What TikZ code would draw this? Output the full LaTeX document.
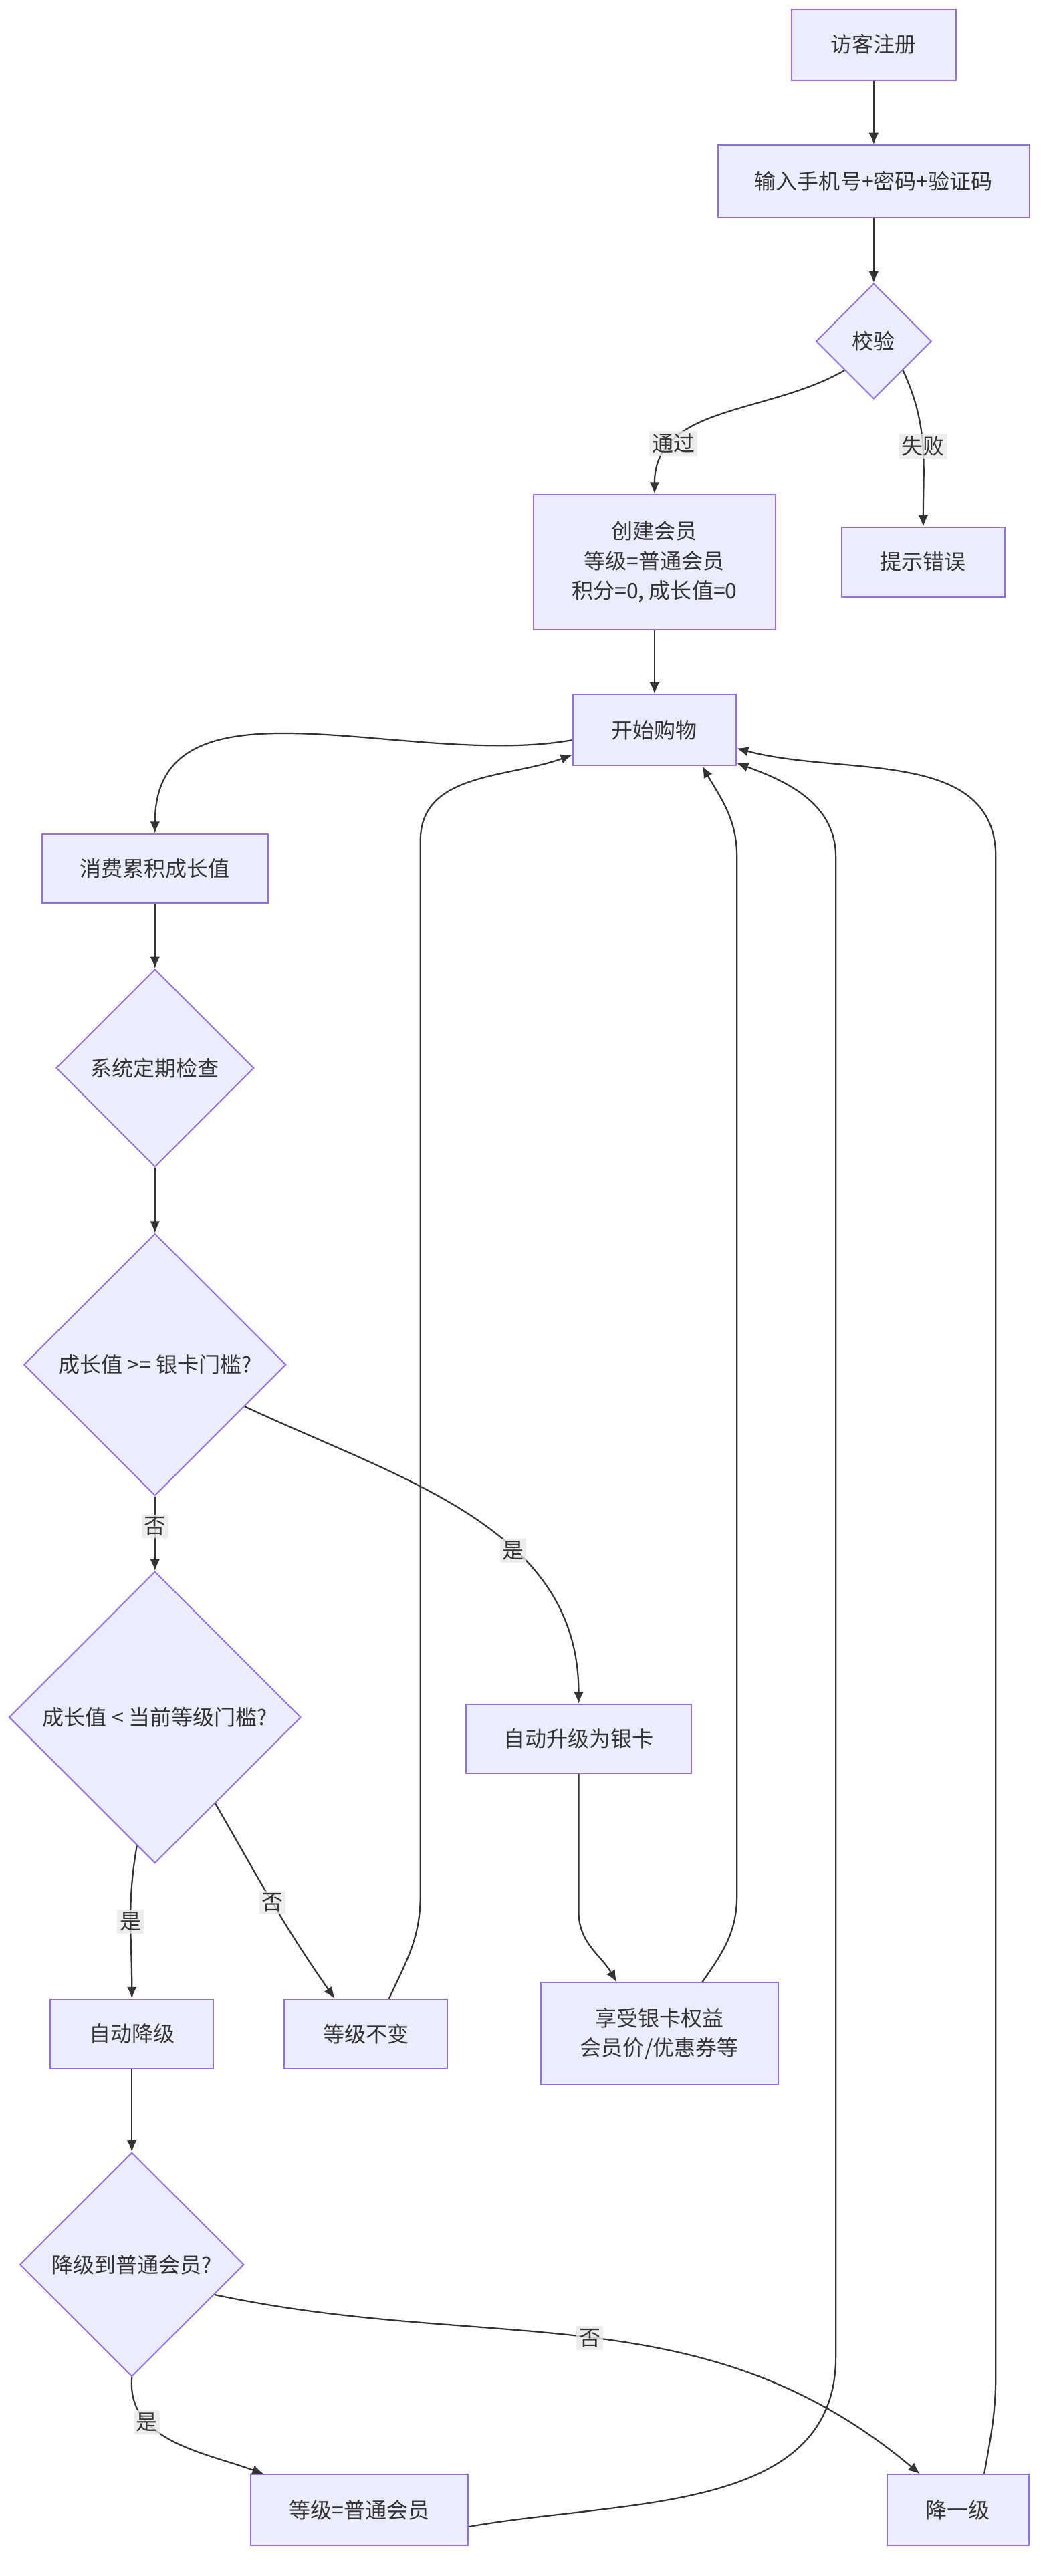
\documentclass[tikz,border=0pt]{standalone}
\usepackage{fontspec}
\setmainfont{Noto Sans CJK SC}
\usetikzlibrary{shapes.geometric}
\usetikzlibrary{arrows.meta}
\definecolor{boxfill}{HTML}{ECECFF}
\definecolor{boxline}{HTML}{9370DB}
\definecolor{edgeline}{HTML}{333333}
\definecolor{lblfill}{HTML}{E8E8E8}
\begin{document}
\begin{tikzpicture}
          [x=1pt, y=1pt,
           every node/.style={font=\fontsize{13}{18}\selectfont, text=edgeline},
           box/.style={draw=boxline, fill=boxfill, line width=0.8pt, align=center, inner sep=0pt},
           dia/.style={draw=boxline, fill=boxfill, line width=0.8pt, diamond, aspect=1, inner sep=0pt, align=center},
           arr/.style={draw=edgeline, line width=0.9pt, -{Latex[length=7pt, width=6pt]}},
           lbl/.style={fill=lblfill, fill opacity=0.8, text opacity=1, inner sep=1.5pt}]
          \useasboundingbox (0,0) rectangle (636,-1563);

          \node (reg) [box, minimum width=100, minimum height=43] at (530,-27) {访客注册};
          \node (inp) [box, minimum width=189, minimum height=44] at (530,-110) {输入手机号+密码+验证码};
          \node (chk) [dia, minimum width=70, minimum height=70] at (530,-207) {校验};
          \node (new) [box, minimum width=147, minimum height=82] at (397,-341) {创建会员\\等级=普通会员\\积分=0, 成长值=0};
          \node (err) [box, minimum width=99, minimum height=42] at (560,-341) {提示错误};
          \node (shop) [box, minimum width=99, minimum height=43] at (397,-443) {开始购物};
          \node (acc) [box, minimum width=137, minimum height=42] at (94,-527) {消费累积成长值};
          \node (per) [dia, minimum width=120, minimum height=120] at (94,-648) {系统定期检查};
          \node (sil) [dia, minimum width=159, minimum height=159] at (94,-828) {成长值 >= 银卡门槛?};
          \node (less) [dia, minimum width=177, minimum height=177] at (94,-1042) {成长值 < 当前等级门槛?};
          \node (up) [box, minimum width=137, minimum height=42] at (351,-1055) {自动升级为银卡};
          \node (down) [box, minimum width=99, minimum height=42] at (80,-1234) {自动降级};
          \node (keep) [box, minimum width=99, minimum height=42] at (222,-1234) {等级不变};
          \node (enj) [box, minimum width=144, minimum height=62] at (400,-1234) {享受银卡权益\\会员价/优惠券等};
          \node (tonorm) [dia, minimum width=136, minimum height=136] at (80,-1374) {降级到普通会员?};
          \node (norm) [box, minimum width=132, minimum height=43] at (218,-1523) {等级=普通会员};
          \node (one) [box, minimum width=86, minimum height=43] at (581,-1523) {降一级};

          \draw[arr] (reg) -- (inp);
          \draw[arr] (inp) -- (chk);
          \draw[arr] (chk.south west) to[out=-150, in=90] node[lbl, pos=0.75] {通过} (new.north);
          \draw[arr] (chk.south east) to[out=-65, in=90] node[lbl, pos=0.5] {失败} (err.north);
          \draw[arr] (new) -- (shop);
          \draw[arr] ([yshift=-6pt]shop.west) to[out=190, in=90] (acc.north);
          \draw[arr] (acc) -- (per);
          \draw[arr] (per) -- (sil);
          \draw[arr] (sil) -- node[lbl, pos=0.4] {否} (less);
          \draw[arr] (sil.-25) to[out=-25, in=90] node[lbl, pos=0.62] {是} (up.north);
          \draw[arr] (less.-98) to[out=-100, in=90] node[lbl, pos=0.5] {是} (down.north);
          \draw[arr] (less.-55) to[out=-60, in=125] node[lbl, pos=0.5] {否} ([xshift=-19pt]keep.north);
          \draw[arr] (up.south) -- (351,-1160) to[out=-90, in=120] ([xshift=-26pt]enj.north);
          \draw[arr] ([xshift=26pt]enj.north) to[out=55, in=-90] (447,-1150) -- (447,-520)
                     to[out=90, in=-60] ([xshift=29pt]shop.south);
          \draw[arr] ([xshift=14pt]keep.north) to[out=65, in=-90] (255,-1150) -- (255,-510)
                     to[out=90, in=200] ([yshift=-15pt]shop.west);
          \draw[arr] (down) -- (tonorm);
          \draw[arr] (tonorm.south) to[out=-95, in=160] node[lbl, pos=0.3] {是} ([xshift=-58pt]norm.north);
          \draw[arr] (tonorm.-20) to[out=-12, in=140] node[lbl, pos=0.5] {否} ([xshift=-23pt]one.north);
          \draw[arr] ([yshift=-10pt]norm.east) to[out=10, in=-90] (507,-1430) -- (507,-520)
                     to[out=90, in=-20] ([yshift=-20pt]shop.east);
          \draw[arr] ([xshift=16pt]one.north) to[out=80, in=-90] (604,-1440) -- (604,-520)
                     to[out=90, in=-15] ([yshift=-11pt]shop.east);
\end{tikzpicture}
\end{document}
